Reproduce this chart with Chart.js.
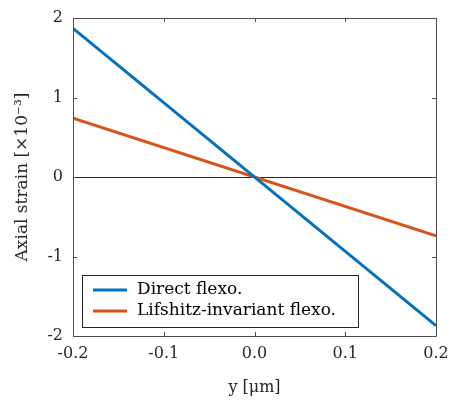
<!DOCTYPE html>
<html>
<head>
<meta charset="utf-8">
<script src="https://cdn.jsdelivr.net/npm/chart.js@4/dist/chart.umd.min.js"></script>
<style>
  html, body { margin: 0; padding: 0; background: #fff; }
  #wrap { width: 451px; height: 403px; position: relative; }
</style>
</head>
<body>
<div id="wrap"><canvas id="chart_axialStrain"></canvas></div>
<script>
// values
var yPositions = [-0.2, 0.2];
var directFlexo = [1.87, -1.87];
var lifshitzFlexo = [0.74, -0.74];
var seriesLabels = ['Direct flexo.', 'Lifshitz-invariant flexo.'];
var xTicks = [-0.2, -0.1, 0.0, 0.1, 0.2];
var yTicks = [-2, -1, 0, 1, 2];

var fontFamily = "'DejaVu Serif', serif";
var fontSize = 16;
var axisColor = '#4d4d4d';

function toPoints(xs, ys) {
    return xs.map(function (x, i) { return { x: x, y: ys[i] }; });
}

var chart_axialStrain = new Chart(document.getElementById('chart_axialStrain'), {
    type: 'line',
    data: {
        datasets: [
            {
                label: seriesLabels[0],
                data: toPoints(yPositions, directFlexo),
                borderColor: '#0072BD',
                backgroundColor: '#0072BD',
                borderWidth: 3,
                pointRadius: 0
            },
            {
                label: seriesLabels[1],
                data: toPoints(yPositions, lifshitzFlexo),
                borderColor: '#D95319',
                backgroundColor: '#D95319',
                borderWidth: 3,
                pointRadius: 0
            }
        ]
    },
    options: {
        animation: false,
        responsive: true,
        maintainAspectRatio: false,
        layout: { padding: { top: 18, right: 15, left: 0, bottom: 0 } },
        plugins: {
            legend: { display: false },
            tooltip: { enabled: false }
        },
        scales: {
            x: {
                type: 'linear',
                min: -0.2,
                max: 0.2,
                afterBuildTicks: function (scale) {
                    scale.ticks = xTicks.map(function (v) { return { value: v }; });
                },
                afterFit: function (scale) {
                    scale.height = 67;
                    scale.paddingLeft = 0;
                    scale.paddingRight = 0;
                },
                ticks: {
                    color: '#262626',
                    padding: 8,
                    maxRotation: 0,
                    font: { family: fontFamily, size: fontSize },
                    callback: function (v) { return Number(v).toFixed(1); }
                },
                grid: { display: false, drawTicks: false },
                border: { display: false },
                title: {
                    display: true,
                    text: 'y [μm]',
                    color: '#262626',
                    padding: { top: 2, bottom: 6 },
                    font: { family: fontFamily, size: fontSize }
                }
            },
            y: {
                min: -2,
                max: 2,
                afterBuildTicks: function (scale) {
                    scale.ticks = yTicks.map(function (v) { return { value: v }; });
                },
                afterFit: function (scale) {
                    scale.width = 73;
                    scale.paddingTop = 0;
                    scale.paddingBottom = 0;
                },
                ticks: {
                    color: '#262626',
                    padding: 10,
                    font: { family: fontFamily, size: fontSize }
                },
                grid: {
                    drawTicks: false,
                    color: function (ctx) {
                        return ctx.tick && ctx.tick.value === 0 ? '#262626' : 'rgba(0,0,0,0)';
                    },
                    lineWidth: 1
                },
                border: { display: false },
                title: {
                    display: true,
                    text: 'Axial strain [×10⁻³]',
                    color: '#262626',
                    padding: { top: 12, bottom: 0 },
                    font: { family: fontFamily, size: 17 }
                }
            }
        }
    },
    plugins: [{
        id: 'boxAndTicks',
        afterDraw: function (chart) {
            var ctx = chart.ctx;
            var a = chart.chartArea;
            var xs = chart.scales.x, ys = chart.scales.y;
            ctx.save();
            ctx.strokeStyle = axisColor;
            ctx.lineWidth = 1;
            ctx.beginPath();
            ctx.rect(Math.round(a.left) + 0.5, Math.round(a.top) + 0.5,
                     Math.round(a.right - a.left), Math.round(a.bottom - a.top));
            ctx.stroke();
            // inward ticks on all four sides
            ctx.beginPath();
            xTicks.forEach(function (v) {
                var px = Math.round(xs.getPixelForValue(v)) + 0.5;
                ctx.moveTo(px, a.bottom); ctx.lineTo(px, a.bottom - 4);
                ctx.moveTo(px, a.top); ctx.lineTo(px, a.top + 4);
            });
            yTicks.forEach(function (v) {
                var py = Math.round(ys.getPixelForValue(v)) + 0.5;
                ctx.moveTo(a.left, py); ctx.lineTo(a.left + 4, py);
                ctx.moveTo(a.right, py); ctx.lineTo(a.right - 4, py);
            });
            ctx.stroke();

            // legend box inside the plot, lower left
            var lx = a.left + 9, ly = 275, lw = 276, lh = 52;
            ctx.fillStyle = '#fff';
            ctx.fillRect(lx, ly, lw, lh);
            ctx.strokeStyle = '#262626';
            ctx.strokeRect(lx + 0.5, ly + 0.5, lw, lh);
            ctx.font = '17px ' + fontFamily;
            ctx.textBaseline = 'middle';
            chart.data.datasets.forEach(function (ds, i) {
                var rowY = ly + 15 + i * 21;
                ctx.strokeStyle = ds.borderColor;
                ctx.lineWidth = 3;
                ctx.beginPath();
                ctx.moveTo(lx + 11, rowY);
                ctx.lineTo(lx + 45, rowY);
                ctx.stroke();
                ctx.fillStyle = '#000';
                ctx.fillText(ds.label, lx + 55, rowY);
            });
            ctx.restore();
        }
    }, {
        id: 'whiteBackground',
        beforeDraw: function (chart) {
            var ctx = chart.canvas.getContext('2d');
            ctx.save();
            ctx.globalCompositeOperation = 'destination-over';
            ctx.fillStyle = 'white';
            ctx.fillRect(0, 0, chart.canvas.width, chart.canvas.height);
            ctx.restore();
        }
    }]
});
</script>
</body>
</html>
